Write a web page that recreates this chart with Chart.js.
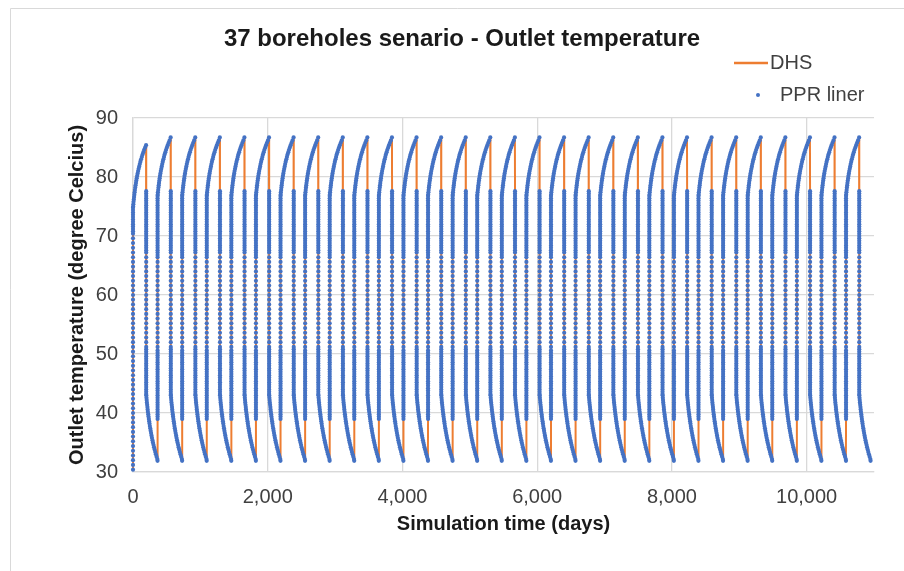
<!DOCTYPE html>
<html>
<head>
<meta charset="utf-8">
<script src="https://cdn.jsdelivr.net/npm/chart.js@4.4.1/dist/chart.umd.min.js"></script>
<style>
  html, body { margin: 0; padding: 0; background: #fff; }
  #wrap { width: 904px; height: 571px; }
</style>
</head>
<body>
<div id="wrap"><canvas id="outletChart" width="904" height="571"></canvas></div>
<script>
// 37 borehole storage, outlet temperature over 30 years of seasonal cycling
const titleText = '37 boreholes senario - Outlet temperature';
const seriesNames = ['DHS', 'PPR liner'];
const years = 30;
const yearDays = 365;
const xTicks = [0, 2000, 4000, 6000, 8000, 10000];
const yTicks = [30, 40, 50, 60, 70, 80, 90];

// year 1: borehole field starts cold, fast rise at day 0
const firstRiseTemps = [30.4, 31.2, 32.0, 32.8, 33.6, 34.4, 35.2, 36.0, 36.8, 37.6, 38.4, 39.2, 40.0, 40.8,
  41.6, 42.4, 43.2, 44.0, 44.8, 45.6, 46.4, 47.2, 48.0, 48.8, 49.6, 50.4, 51.2, 52.0, 52.8, 53.6, 54.4, 55.2,
  56.0, 56.8, 57.6, 58.4, 59.2, 60.0, 60.8, 61.6, 62.4, 63.2, 64.0, 64.8, 65.6, 66.4, 67.2, 68.0, 68.8, 69.6,
  70.4, 70.8, 71.2, 71.6, 72.0, 72.4, 72.8, 73.2, 73.6, 74.0, 74.4, 74.8];
// year 1 charging, [day, temp]
const firstSlowRise = [[2, 75.0], [5, 75.4], [8, 75.8], [12, 76.2], [16, 76.6], [20, 77.0], [24, 77.4], [28, 77.8],
  [33, 78.2], [38, 78.6], [44, 79.0], [49, 79.4], [55, 79.8], [62, 80.2], [69, 80.6], [76, 81.0], [84, 81.4],
  [92, 81.8], [101, 82.2], [110, 82.6], [120, 83.0], [131, 83.4], [142, 83.8], [154, 84.2], [166, 84.6],
  [180, 85.0], [194, 85.4]];

// every later year: switch to charging at day 0
const riseTemps = [39.0, 39.4, 39.8, 40.2, 40.6, 41.0, 41.4, 41.8, 42.2, 42.6, 43.0, 43.4, 43.8, 44.2, 44.6,
  45.0, 45.4, 45.8, 46.2, 46.6, 47.0, 47.4, 47.8, 48.2, 48.6, 49.0, 49.4, 49.8, 50.2, 50.6,
  51.2, 52.0, 52.8, 53.6, 54.4, 55.2, 56.0, 56.8, 57.6, 58.4, 59.2, 60.0, 60.8, 61.6, 62.4, 63.2, 64.0,
  64.8, 65.6, 66.4,
  66.8, 67.2, 67.6, 68.0, 68.4, 68.8, 69.2, 69.6, 70.0, 70.4, 70.8, 71.2, 71.6, 72.0, 72.4, 72.8, 73.2, 73.6,
  74.0, 74.4, 74.8, 75.2, 75.6, 76.0, 76.4, 76.8];
const slowRise = [[2, 77.0], [5, 77.4], [9, 77.8], [13, 78.2], [17, 78.6], [21, 79.0], [26, 79.4], [31, 79.8],
  [36, 80.2], [42, 80.6], [48, 81.0], [55, 81.4], [62, 81.8], [69, 82.2], [77, 82.6], [86, 83.0], [95, 83.4],
  [104, 83.8], [115, 84.2], [126, 84.6], [138, 85.0], [150, 85.4], [164, 85.8], [178, 86.2], [194, 86.7]];

// extraction starts at day 196
const fallDay = 196;
const fallTemps = [77.6, 77.2, 76.8, 76.4, 76.0, 75.6, 75.2, 74.8, 74.4, 74.0, 73.6, 73.2, 72.8, 72.4, 72.0,
  71.6, 71.2, 70.8, 70.4, 70.0, 69.6, 69.2, 68.8, 68.4, 68.0, 67.6, 67.2,
  66.4, 65.6, 64.8, 64.0, 63.2, 62.4, 61.6, 60.8, 60.0, 59.2, 58.4, 57.6, 56.8, 56.0, 55.2, 54.4, 53.6,
  52.8, 52.0, 51.2,
  50.8, 50.4, 50.0, 49.6, 49.2, 48.8, 48.4, 48.0, 47.6, 47.2, 46.8, 46.4, 46.0, 45.6, 45.2, 44.8, 44.4,
  44.0, 43.6, 43.2];
const slowFall = [[197, 43.0], [200, 42.6], [203, 42.2], [206, 41.8], [210, 41.4], [214, 41.0], [217, 40.6],
  [221, 40.2], [226, 39.8], [230, 39.4], [235, 39.0], [240, 38.6], [245, 38.2], [250, 37.8], [256, 37.4],
  [262, 37.0], [268, 36.6], [275, 36.2], [281, 35.8], [289, 35.4], [296, 35.0], [304, 34.6], [312, 34.2],
  [321, 33.8], [330, 33.4], [340, 33.0], [350, 32.6], [361, 32.2], [364, 31.9]];

// string the yearly cycles together
const dhsPoints = [];
for (let y = 0; y < years; y++) {
  const start = y * yearDays;
  const fast = y === 0 ? firstRiseTemps : riseTemps;
  const slow = y === 0 ? firstSlowRise : slowRise;
  fast.forEach(t => dhsPoints.push({x: start, y: t}));
  slow.forEach(p => dhsPoints.push({x: start + p[0], y: p[1]}));
  fallTemps.forEach(t => dhsPoints.push({x: start + fallDay, y: t}));
  slowFall.forEach(p => dhsPoints.push({x: start + p[0], y: p[1]}));
}
// liner run sits on top of the DHS run
const pprPoints = dhsPoints.map(p => ({x: p.x, y: p.y}));

const orange = '#ED7D31';
const blue = '#4472C4';
const fontFam = '"Liberation Sans", Arial, sans-serif';

// title, key and outer frame drawn straight on the canvas
const extras = {
  id: 'extras',
  afterDraw(chart) {
    const ctx = chart.ctx;
    ctx.save();
    ctx.strokeStyle = '#d9d9d9';
    ctx.lineWidth = 1;
    ctx.beginPath();
    ctx.moveTo(10.5, 571);
    ctx.lineTo(10.5, 8.5);
    ctx.lineTo(904, 8.5);
    ctx.stroke();

    ctx.fillStyle = '#1a1a1a';
    ctx.textAlign = 'center';
    ctx.textBaseline = 'middle';
    ctx.font = 'bold 24px ' + fontFam;
    ctx.fillText(titleText, 462, 39);

    ctx.textAlign = 'left';
    ctx.font = '20px ' + fontFam;
    ctx.fillStyle = '#404040';
    ctx.strokeStyle = orange;
    ctx.lineWidth = 2.5;
    ctx.beginPath();
    ctx.moveTo(734, 63);
    ctx.lineTo(768, 63);
    ctx.stroke();
    ctx.fillText(seriesNames[0], 770, 63);

    ctx.fillStyle = blue;
    ctx.beginPath();
    ctx.arc(758, 95, 2, 0, Math.PI * 2);
    ctx.fill();
    ctx.fillStyle = '#404040';
    ctx.fillText(seriesNames[1], 780, 95);
    ctx.restore();
  }
};

const ctx = document.getElementById('outletChart').getContext('2d');
const outletChart = new Chart(ctx, {
  type: 'scatter',
  data: {
    datasets: [{
      label: seriesNames[1],
      data: pprPoints,
      showLine: false,
      pointRadius: 2.1,
      pointBorderWidth: 0,
      pointBackgroundColor: blue,
      pointHoverRadius: 0,
      order: 0,
      clip: 6
    }, {
      label: seriesNames[0],
      data: dhsPoints,
      showLine: true,
      borderColor: orange,
      borderWidth: 2,
      borderJoinStyle: 'round',
      pointRadius: 0,
      pointHoverRadius: 0,
      order: 1,
      clip: 6
    }]
  },
  options: {
    responsive: false,
    animation: false,
    events: [],
    layout: { padding: { left: 60, right: 30, top: 118, bottom: 30 } },
    plugins: {
      legend: { display: false },
      title: { display: false },
      tooltip: { enabled: false }
    },
    scales: {
      x: {
        type: 'linear',
        min: 0,
        max: 11000,
        afterFit: s => { s.height = 69; },
        afterBuildTicks: s => { s.ticks = xTicks.map(v => ({value: v})); },
        grid: { color: '#d9d9d9', lineWidth: 1.3, drawTicks: false },
        border: { color: '#d9d9d9', width: 1.3 },
        ticks: {
          padding: 13,
          color: '#404040',
          font: { family: fontFam, size: 20 },
          callback: v => v.toLocaleString('en-US')
        },
        title: {
          display: true,
          text: 'Simulation time (days)',
          color: '#1a1a1a',
          font: { family: fontFam, size: 20, weight: 'bold' },
          padding: { top: 0, bottom: 5 }
        }
      },
      y: {
        min: 30,
        max: 90,
        afterFit: s => { s.width = 73; },
        afterBuildTicks: s => { s.ticks = yTicks.map(v => ({value: v})); },
        grid: { color: '#d9d9d9', lineWidth: 1.3, drawTicks: false },
        border: { color: '#d9d9d9', width: 1.3 },
        ticks: {
          padding: 15,
          color: '#404040',
          font: { family: fontFam, size: 20 }
        },
        title: {
          display: true,
          text: 'Outlet temperature (degree Celcius)',
          color: '#1a1a1a',
          font: { family: fontFam, size: 20, weight: 'bold' },
          padding: { top: 5, bottom: 0 }
        }
      }
    }
  },
  plugins: [extras]
});
</script>
</body>
</html>
